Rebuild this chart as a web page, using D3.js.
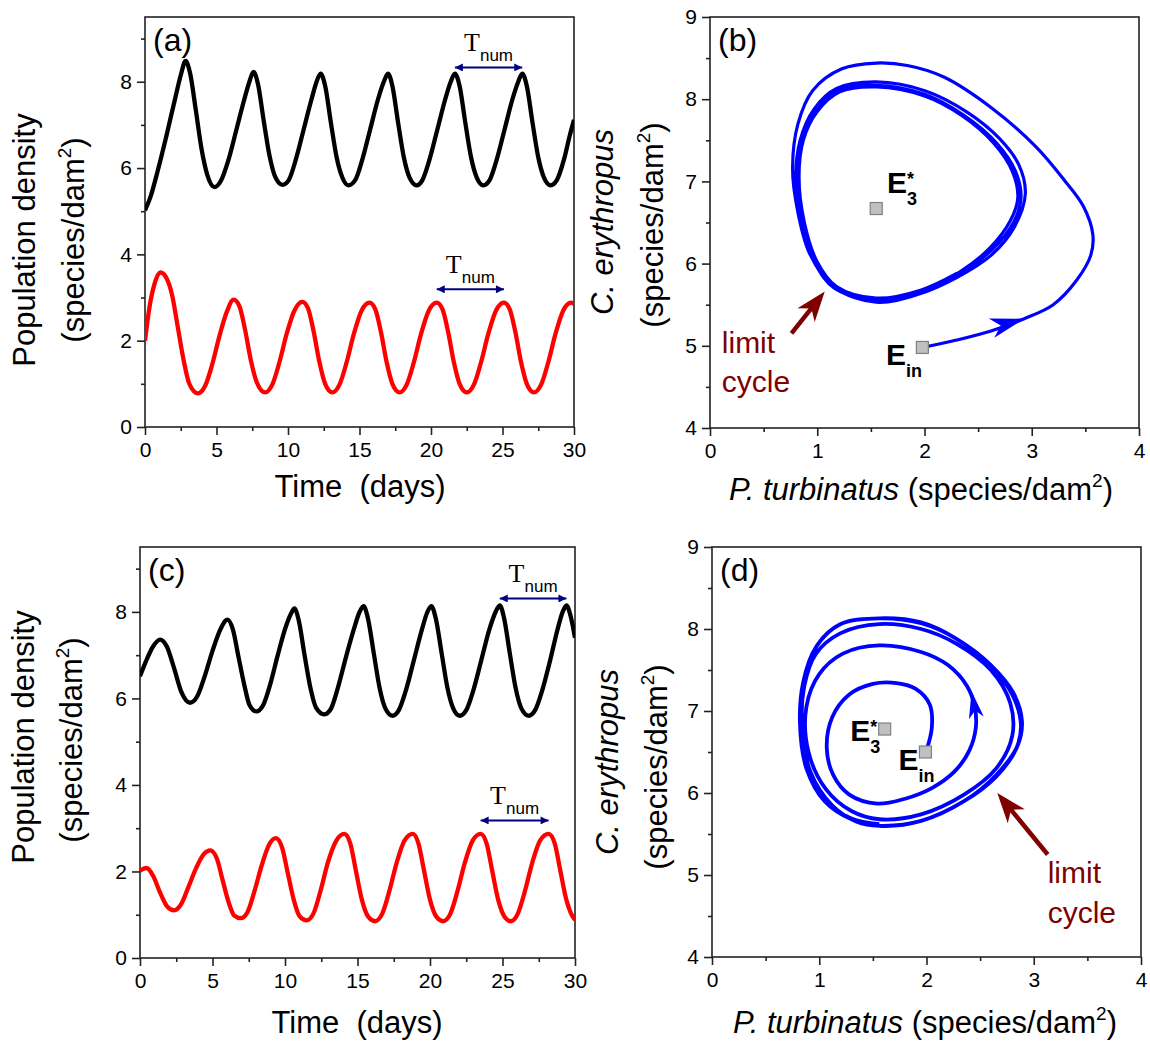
<!DOCTYPE html>
<html>
<head>
<meta charset="utf-8">
<script src="https://d3js.org/d3.v7.min.js"></script>
<style>
  body { margin: 0; background: #fff; }
  svg text { font-family: "Liberation Sans", Arial, sans-serif; fill: #000; }
  .frame { fill: none; stroke: #222; stroke-width: 1.6px; }
  .tick line { stroke: #222; stroke-width: 1.6px; }
  .tick text { font-size: 21px; }
  .domain { display: none; }
  .series { fill: none; stroke-width: 4.3px; stroke-linejoin: round; }
  .orbit { fill: none; stroke: #0000ff; stroke-linejoin: round; }
</style>
</head>
<body>
<script>
// ---- data ----
var timeTicks = [0, 5, 10, 15, 20, 25, 30];
var timeMinor = [2.5, 7.5, 12.5, 17.5, 22.5, 27.5];
var densTicks = [0, 2, 4, 6, 8];
var densMinor = [1, 3, 5, 7, 9];
var turbTicks = [0, 1, 2, 3, 4];
var turbMinor = [0.5, 1.5, 2.5, 3.5];
var eryTicks = [4, 5, 6, 7, 8, 9];
var eryMinor = [4.5, 5.5, 6.5, 7.5, 8.5];

// panel (a): [day, density]
var blackA = [[0,5.02],[0.4,5.35],[0.9,5.95],[1.5,6.75],[2.1,7.6],[2.5,8.15],[2.84,8.48],[3.15,8.2],[3.55,7.35],[3.95,6.45],[4.35,5.85],[4.86,5.56],
  [5.3,5.7],[5.8,6.15],[6.4,6.9],[6.95,7.6],[7.3,8.0],[7.58,8.23],[7.9,7.95],[8.3,7.1],[8.7,6.3],[9.1,5.8],[9.62,5.61],
  [10.05,5.72],[10.55,6.2],[11.1,6.9],[11.65,7.6],[12.0,8.0],[12.28,8.19],[12.6,7.9],[13.0,7.05],[13.4,6.25],[13.8,5.78],[14.22,5.6],
  [14.7,5.72],[15.2,6.2],[15.75,6.9],[16.3,7.6],[16.7,8.0],[16.99,8.19],[17.3,7.9],[17.7,7.05],[18.1,6.25],[18.5,5.78],[19.0,5.6],
  [19.4,5.72],[19.9,6.2],[20.45,6.9],[21.0,7.6],[21.38,8.0],[21.67,8.19],[22.0,7.9],[22.4,7.05],[22.8,6.25],[23.2,5.78],[23.66,5.6],
  [24.1,5.72],[24.6,6.2],[25.15,6.9],[25.7,7.6],[26.1,8.0],[26.38,8.19],[26.7,7.9],[27.1,7.05],[27.5,6.25],[27.9,5.78],[28.37,5.6],
  [28.8,5.72],[29.3,6.2],[29.7,6.75],[30,7.12]];
var redA = [[0,2.0],[0.3,2.75],[0.65,3.3],[1.09,3.58],[1.5,3.45],[1.9,3.05],[2.3,2.3],[2.7,1.55],[3.1,1.0],[3.7,0.78],
  [4.2,0.95],[4.7,1.45],[5.2,2.1],[5.7,2.65],[6.2,2.95],[6.6,2.8],[7.0,2.25],[7.4,1.55],[7.8,1.05],[8.4,0.8],
  [8.9,0.98],[9.4,1.5],[9.9,2.15],[10.45,2.7],[11.0,2.9],[11.4,2.75],[11.8,2.2],[12.2,1.5],[12.6,1.0],[13.1,0.8],
  [13.6,0.98],[14.1,1.5],[14.6,2.15],[15.15,2.7],[15.7,2.88],[16.1,2.73],[16.5,2.2],[16.9,1.5],[17.3,1.0],[17.8,0.8],
  [18.3,0.98],[18.8,1.5],[19.3,2.15],[19.85,2.7],[20.4,2.88],[20.8,2.73],[21.2,2.2],[21.6,1.5],[22.0,1.0],[22.5,0.8],
  [23.0,0.98],[23.5,1.5],[24.0,2.15],[24.55,2.7],[25.1,2.88],[25.5,2.73],[25.9,2.2],[26.3,1.5],[26.7,1.0],[27.2,0.8],
  [27.7,0.98],[28.2,1.5],[28.7,2.15],[29.25,2.7],[29.8,2.88],[30,2.85]];
// panel (c)
var blackC = [[0,6.51],[0.4,6.85],[0.9,7.2],[1.38,7.36],[1.85,7.2],[2.35,6.7],[2.85,6.15],[3.45,5.9],
  [3.95,6.05],[4.45,6.5],[5.0,7.1],[5.55,7.6],[6.03,7.82],[6.4,7.6],[6.8,6.95],[7.2,6.3],[7.55,5.85],[8.02,5.7],
  [8.5,5.85],[9.0,6.35],[9.5,7.0],[10.05,7.65],[10.4,7.95],[10.65,8.08],[10.95,7.8],[11.35,7.0],[11.75,6.25],[12.15,5.78],[12.69,5.63],
  [13.15,5.75],[13.65,6.25],[14.2,6.95],[14.75,7.6],[15.12,7.98],[15.42,8.13],[15.72,7.85],[16.12,7.05],[16.52,6.25],[16.92,5.77],[17.41,5.6],
  [17.85,5.73],[18.35,6.2],[18.9,6.9],[19.45,7.6],[19.8,7.98],[20.09,8.13],[20.4,7.85],[20.8,7.05],[21.2,6.25],[21.6,5.77],[22.05,5.6],
  [22.5,5.73],[23.0,6.2],[23.55,6.9],[24.1,7.6],[24.5,7.98],[24.81,8.15],[25.1,7.87],[25.5,7.05],[25.9,6.25],[26.3,5.77],[26.8,5.6],
  [27.25,5.73],[27.75,6.2],[28.3,6.9],[28.8,7.6],[29.15,8.0],[29.41,8.15],[29.7,7.9],[30,7.4]];
var redC = [[0,2.02],[0.45,2.08],[0.9,1.9],[1.4,1.5],[1.85,1.2],[2.35,1.1],[2.85,1.25],[3.35,1.65],[3.9,2.1],[4.4,2.4],[4.85,2.49],
  [5.3,2.3],[5.7,1.8],[6.1,1.3],[6.5,0.98],[6.94,0.92],[7.4,1.05],[7.9,1.55],[8.4,2.15],[8.9,2.62],[9.37,2.77],
  [9.8,2.55],[10.2,1.95],[10.6,1.35],[11.0,0.97],[11.49,0.87],[11.95,1.02],[12.45,1.55],[12.95,2.2],[13.55,2.72],[14.09,2.87],
  [14.5,2.65],[14.9,2.0],[15.3,1.35],[15.75,0.95],[16.21,0.85],[16.7,1.02],[17.2,1.55],[17.7,2.2],[18.25,2.72],[18.82,2.87],
  [19.2,2.65],[19.6,2.0],[20.0,1.35],[20.45,0.95],[20.91,0.85],[21.4,1.02],[21.9,1.55],[22.4,2.2],[22.95,2.72],[23.49,2.87],
  [23.9,2.65],[24.3,2.0],[24.7,1.35],[25.15,0.95],[25.58,0.85],[26.05,1.02],[26.55,1.55],[27.05,2.2],[27.6,2.72],[28.18,2.87],
  [28.6,2.65],[29.0,2.0],[29.4,1.35],[29.7,1.05],[30,0.88]];

// Tnum arrows: [start day, end day, level]
var tnumA = [[21.67, 26.38, 8.33], [20.4, 25.1, 3.19]];
var tnumC = [[24.81, 29.41, 8.31], [23.49, 28.18, 3.18]];

// phase plane: [P. turbinatus, C. erythropus]
var orbitB = [[1.98,4.98],[2.3,5.07],[2.62,5.18],[2.93,5.33],[3.2,5.5],[3.42,5.8],[3.55,6.1],[3.57,6.35],[3.48,6.7],[3.3,7.02],[3.04,7.42],[2.62,7.9],[2.18,8.27],[1.84,8.41],[1.55,8.44],[1.23,8.37],[0.96,8.11],[0.82,7.7],[0.77,7.17],[0.81,6.69],[0.93,6.12],[1.16,5.71],[1.55,5.53],
  [1.95,5.63],[2.3,5.83],[2.62,6.1],[2.84,6.45],[2.94,6.85],[2.88,7.2],[2.7,7.52],[2.4,7.84],[2.01,8.1],[1.55,8.21],[1.18,8.13],[0.97,7.88],[0.84,7.5],[0.8,7.05],[0.85,6.5],[0.98,6.0],[1.16,5.7],[1.55,5.55],
  [1.97,5.66],[2.33,5.88],[2.63,6.17],[2.83,6.5],[2.9,6.8],[2.85,7.12],[2.67,7.47],[2.36,7.81],[2.0,8.06],[1.55,8.17],[1.2,8.1],[0.99,7.86],[0.86,7.5],[0.82,7.05],[0.87,6.5],[0.99,6.02],[1.17,5.71],[1.55,5.56],
  [1.97,5.67],[2.33,5.9],[2.61,6.19],[2.8,6.52],[2.87,6.8],[2.82,7.12],[2.65,7.46],[2.35,7.8],[2.0,8.04],[1.55,8.15],[1.21,8.09],[1.0,7.85],[0.87,7.5],[0.83,7.05],[0.88,6.5],[1.0,6.02],[1.18,5.72],[1.55,5.58],[1.97,5.68],[2.3,5.88]];
var orbitD = [[2.0,6.52],[2.05,6.8],[2.03,7.08],[1.9,7.27],[1.72,7.34],[1.5,7.33],[1.28,7.2],[1.12,6.92],[1.07,6.55],[1.13,6.22],[1.28,5.98],[1.54,5.87],[1.8,5.93],[2.05,6.06],[2.26,6.26],[2.4,6.52],[2.46,6.8],[2.45,7.05],[2.38,7.3],
  [2.2,7.56],[1.95,7.72],[1.56,7.8],[1.22,7.7],[1.0,7.45],[0.88,7.05],[0.9,6.5],[1.06,6.05],[1.3,5.78],[1.56,5.68],[1.95,5.74],[2.35,5.98],[2.65,6.3],[2.8,6.7],[2.78,7.1],[2.6,7.5],
  [2.28,7.82],[1.95,8.0],[1.56,8.06],[1.2,7.95],[0.97,7.7],[0.86,7.3],[0.84,6.8],[0.92,6.25],[1.12,5.85],[1.35,5.65],[1.56,5.6],[1.95,5.66],[2.35,5.9],[2.65,6.2],[2.84,6.55],[2.88,6.85],[2.8,7.2],[2.6,7.55],
  [2.28,7.88],[1.95,8.07],[1.56,8.13],[1.2,8.06],[0.97,7.78],[0.85,7.35],[0.82,6.85],[0.88,6.3],[1.05,5.9],[1.3,5.68],[1.56,5.6],[1.95,5.66],[2.35,5.9],[2.65,6.22],[2.85,6.58],[2.89,6.88],[2.81,7.22],[2.6,7.56],
  [2.28,7.88],[1.95,8.08],[1.56,8.13],[1.2,8.06],[0.98,7.8],[0.86,7.35],[0.83,6.85],[0.89,6.3],[1.06,5.9],[1.3,5.69],[1.56,5.62]];

// equilibria and arrows: [x, y]
var e3B = [1.55, 6.67], einB = [1.98, 4.98];
var e3D = [1.61, 6.78], einD = [1.99, 6.5];
var dirB = [[2.69, 5.24], [2.93, 5.33]];
var dirD = [[2.46, 6.95], [2.42, 7.24]];
var limitArrowB = [[0.76, 5.15], [1.07, 5.66]];
var limitArrowD = [[3.13, 5.25], [2.66, 6.0]];

// ---- drawing ----
var svg = d3.select("body").append("svg").attr("width", 1150).attr("height", 1044);

svg.append("defs").append("marker")
    .attr("id", "tri").attr("viewBox", "0 0 10 10").attr("refX", 10).attr("refY", 5)
    .attr("markerUnits", "userSpaceOnUse").attr("markerWidth", 10).attr("markerHeight", 8)
    .attr("orient", "auto-start-reverse")
  .append("path").attr("d", "M0,0L10,5L0,10Z").attr("fill", "#000080");

function panel(box, xd, yd) {
  var w = box.right - box.left, h = box.bottom - box.top;
  var g = svg.append("g").attr("transform", "translate(" + box.left + "," + box.top + ")");
  var x = d3.scaleLinear().domain(xd).range([0, w]);
  var y = d3.scaleLinear().domain(yd).range([h, 0]);
  var id = "clip" + box.left + box.top;
  g.append("clipPath").attr("id", id).append("rect").attr("width", w).attr("height", h);
  return {g: g, x: x, y: y, w: w, h: h, clip: "url(#" + id + ")"};
}

function axes(p, xt, xm, yt, ym, label) {
  p.g.append("g").attr("transform", "translate(0," + p.h + ")")
    .call(d3.axisBottom(p.x).tickValues(xt).tickSize(8).tickPadding(7).tickFormat(d3.format("d")));
  p.g.append("g").attr("transform", "translate(0," + p.h + ")")
    .call(d3.axisBottom(p.x).tickValues(xm).tickSize(4).tickFormat(""));
  p.g.append("g").call(d3.axisLeft(p.y).tickValues(yt).tickSize(8).tickPadding(5).tickFormat(d3.format("d")));
  p.g.append("g").call(d3.axisLeft(p.y).tickValues(ym).tickSize(4).tickFormat(""));
  p.g.append("rect").attr("class", "frame").attr("width", p.w).attr("height", p.h);
  p.g.append("text").attr("x", 8).attr("y", 34).style("font-size", "32px").text(label);
}

function units(t) {
  t.append("tspan").text("(species/dam");
  t.append("tspan").attr("dy", -13).style("font-size", "19px").text("2");
  t.append("tspan").attr("dy", 13).text(")");
}

function yLabel(x, y, fn) {
  var t = svg.append("text").attr("transform", "translate(" + x + "," + y + ") rotate(-90)")
    .attr("text-anchor", "middle").style("font-size", "31px");
  fn(t);
}

function timePanel(box, black, red, tnum, label, ylab, xlab) {
  var p = panel(box, [0, 30], [0, 9.5]);
  axes(p, timeTicks, timeMinor, densTicks, densMinor, label);
  var line = d3.line().x(function(d) { return p.x(d[0]); }).y(function(d) { return p.y(d[1]); })
    .curve(d3.curveMonotoneX);
  p.g.append("path").attr("class", "series").attr("clip-path", p.clip).attr("stroke", "#000").attr("d", line(black));
  p.g.append("path").attr("class", "series").attr("clip-path", p.clip).attr("stroke", "#ff0000").attr("d", line(red));
  tnum.forEach(function(a) {
    p.g.append("line").attr("x1", p.x(a[0])).attr("x2", p.x(a[1])).attr("y1", p.y(a[2])).attr("y2", p.y(a[2]))
      .attr("stroke", "#000080").attr("stroke-width", 2)
      .attr("marker-start", "url(#tri)").attr("marker-end", "url(#tri)");
    var t = p.g.append("text").attr("x", p.x((a[0] + a[1]) / 2)).attr("y", p.y(a[2]) - 16)
      .attr("text-anchor", "middle");
    t.append("tspan").style("font-family", "'Liberation Serif', 'Times New Roman', serif").style("font-size", "26px").text("T");
    t.append("tspan").attr("dy", 10).style("font-size", "17px").text("num");
  });
  yLabel(ylab[0], ylab[2], function(t) { t.text("Population density"); });
  yLabel(ylab[1], ylab[3], units);
  svg.append("text").attr("x", xlab[0]).attr("y", xlab[1]).attr("text-anchor", "middle")
    .style("font-size", "31px").style("white-space", "pre").text("Time  (days)");
}

function head(g, a, b, len, wid, color) {
  var ang = Math.atan2(b[1] - a[1], b[0] - a[0]) * 180 / Math.PI;
  g.append("path")
    .attr("d", "M0,0L" + (-len) + "," + (-wid / 2) + "L" + (-len * 0.72) + ",0L" + (-len) + "," + (wid / 2) + "Z")
    .attr("transform", "translate(" + b[0] + "," + b[1] + ") rotate(" + ang + ")")
    .attr("fill", color);
}

function eLabel(g, x, y, sub, star) {
  g.append("text").attr("x", x).attr("y", y).style("font-size", "30px").style("font-weight", "bold").text("E");
  g.append("text").attr("x", x + 20).attr("y", y + 12).style("font-size", "18px").style("font-weight", "bold").text(sub);
  if (star) g.append("text").attr("x", x + 20).attr("y", y - 8).style("font-size", "18px").style("font-weight", "bold").text("*");
}

function phasePanel(box, orbit, lw, e3, ein, e3pos, einpos, dir, dirSize, limArrow, limPos, label, ylab, xlab) {
  var p = panel(box, [0, 4], [4, 9]);
  axes(p, turbTicks, turbMinor, eryTicks, eryMinor, label);
  var line = d3.line().x(function(d) { return p.x(d[0]); }).y(function(d) { return p.y(d[1]); })
    .curve(d3.curveCatmullRom.alpha(0.5));
  p.g.append("path").attr("class", "orbit").attr("stroke-width", lw).attr("d", line(orbit));
  head(p.g, [p.x(dir[0][0]), p.y(dir[0][1])], [p.x(dir[1][0]), p.y(dir[1][1])], dirSize[0], dirSize[1], "#0000ff");
  [e3, ein].forEach(function(e) {
    p.g.append("rect").attr("x", p.x(e[0]) - 6).attr("y", p.y(e[1]) - 6).attr("width", 12).attr("height", 12)
      .attr("fill", "#c0c0c0").attr("stroke", "#808080").attr("stroke-width", 1.2);
  });
  eLabel(p.g, p.x(e3pos[0]), p.y(e3pos[1]), "3", true);
  eLabel(p.g, p.x(einpos[0]), p.y(einpos[1]), "in", false);
  var a = [p.x(limArrow[0][0]), p.y(limArrow[0][1])], b = [p.x(limArrow[1][0]), p.y(limArrow[1][1])];
  var dx = b[0] - a[0], dy = b[1] - a[1], L = Math.sqrt(dx * dx + dy * dy);
  p.g.append("line").attr("x1", a[0]).attr("y1", a[1])
    .attr("x2", b[0] - dx / L * 20).attr("y2", b[1] - dy / L * 20)
    .attr("stroke", "#800000").attr("stroke-width", 4.5);
  head(p.g, a, b, 30, 22, "#800000");
  p.g.append("text").attr("x", p.x(limPos[0])).attr("y", p.y(limPos[1])).style("font-size", "30px").style("fill", "#800000").text("limit");
  p.g.append("text").attr("x", p.x(limPos[0])).attr("y", p.y(limPos[2])).style("font-size", "30px").style("fill", "#800000").text("cycle");
  yLabel(ylab[0], ylab[2], function(t) { t.style("font-style", "italic").text("C. erythropus"); });
  yLabel(ylab[1], ylab[3], units);
  var t = svg.append("text").attr("x", xlab[0]).attr("y", xlab[1]).attr("text-anchor", "middle").style("font-size", "31px");
  t.append("tspan").style("font-style", "italic").text("P. turbinatus");
  t.append("tspan").text(" (species/dam");
  t.append("tspan").attr("dy", -13).style("font-size", "19px").text("2");
  t.append("tspan").attr("dy", 13).text(")");
}

timePanel({left: 145, top: 17, right: 574, bottom: 427}, blackA, redA, tnumA, "(a)", [35, 84, 240, 240], [360, 497]);
timePanel({left: 140, top: 547, right: 575, bottom: 958}, blackC, redC, tnumC, "(c)", [34, 82, 737, 740], [357, 1033]);
phasePanel({left: 710, top: 17, right: 1139, bottom: 428}, orbitB, 3.2, e3B, einB, [1.65, 6.86], [1.64, 4.77],
  dirB, [34, 20], limitArrowB, [0.11, 4.91, 4.44], "(b)", [613, 663, 222, 225], [921, 500]);
phasePanel({left: 712, top: 547, right: 1141, bottom: 957}, orbitD, 3.8, e3D, einD, [1.29, 6.63], [1.74, 6.28],
  dirD, [27, 15], limitArrowD, [3.13, 4.9, 4.41], "(d)", [618, 667, 762, 767], [925, 1033]);
</script>
</body>
</html>
